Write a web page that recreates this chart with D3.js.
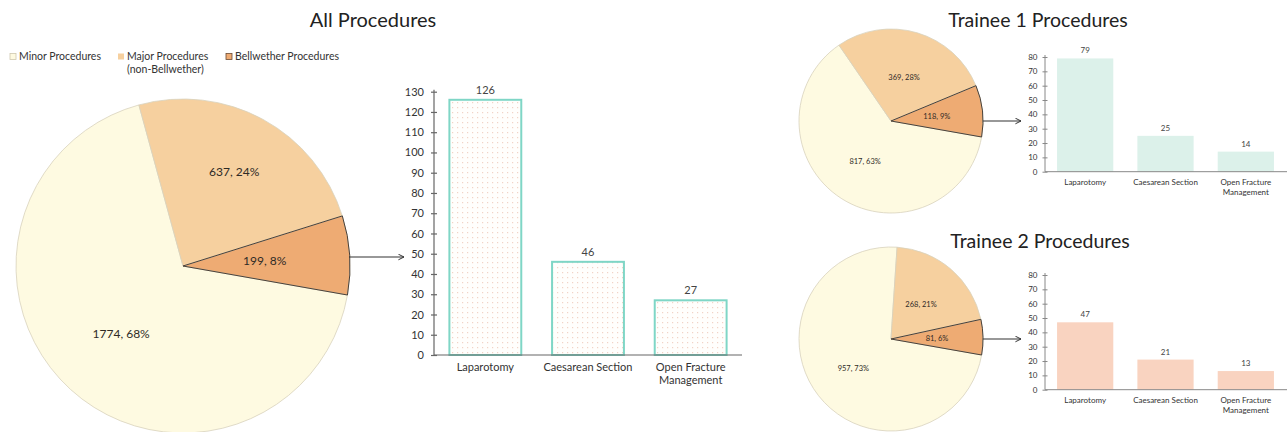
<!DOCTYPE html>
<html>
<head>
<meta charset="utf-8">
<script src="https://cdn.jsdelivr.net/npm/d3@7"></script>
<style>
  html, body { margin: 0; padding: 0; background: #ffffff; }
  svg { display: block; font-family: Lato, "Open Sans", sans-serif; }
</style>
</head>
<body>
<svg id="chart" width="1287" height="432"></svg>
<script>
// Procedure groups shown in every pie
const groupNames = ["Minor Procedures", "Major Procedures", "Bellwether Procedures"];
const legendLines = [["Minor Procedures"], ["Major Procedures", "(non-Bellwether)"], ["Bellwether Procedures"]];

// Counts and shares per group
const allCounts = [1774, 637, 199];
const allShares = [68, 24, 8];
const trainee1Counts = [817, 369, 118];
const trainee1Shares = [63, 28, 9];
const trainee2Counts = [957, 268, 81];
const trainee2Shares = [73, 21, 6];

// Bellwether procedure breakdown
const bellwetherNames = ["Laparotomy", "Caesarean Section", "Open Fracture Management"];
const bellwetherLabelLines = [["Laparotomy"], ["Caesarean Section"], ["Open Fracture", "Management"]];
const allBellwether = [126, 46, 27];
const trainee1Bellwether = [79, 25, 14];
const trainee2Bellwether = [47, 21, 13];

// Axis ticks
const allTicks = d3.range(0, 131, 10);
const traineeTicks = d3.range(0, 81, 10);

const groupColors = ["#fefae1", "#f6d09f", "#eeab73"];
const deg = Math.PI / 180;

const svg = d3.select("#chart");

// dotted fill for the overall bellwether bars
const defs = svg.append("defs");
const pat = defs.append("pattern")
  .attr("id", "dots").attr("patternUnits", "userSpaceOnUse")
  .attr("width", 5).attr("height", 5);
pat.append("rect").attr("width", 5).attr("height", 5).attr("fill", "#fffefc");
pat.append("rect").attr("x", 2).attr("y", 2).attr("width", 1.2).attr("height", 1.2).attr("fill", "#f1d3c6");

const marker = defs.append("marker")
  .attr("id", "arrow").attr("viewBox", "0 0 10 10")
  .attr("refX", 9).attr("refY", 5)
  .attr("markerWidth", 7).attr("markerHeight", 7)
  .attr("markerUnits", "userSpaceOnUse")
  .attr("orient", "auto");
marker.append("path").attr("d", "M1,1 L9,5 L1,9").attr("fill", "none")
  .attr("stroke", "#333").attr("stroke-width", 1.4);

// labelFracs: radial placement of each slice label, as a fraction of the radius
function drawPie(cx, cy, r, counts, shares, fontSize, labelFracs) {
  const g = svg.append("g").attr("transform", `translate(${cx},${cy})`);
  const start = 100 * deg;
  const pie = d3.pie().sort(null).startAngle(start).endAngle(start + 2 * Math.PI);
  const arcs = pie(counts);
  const arc = d3.arc().innerRadius(0).outerRadius(r);
  g.selectAll("path.slice").data(arcs).join("path")
    .attr("class", "slice")
    .attr("d", arc)
    .attr("fill", (d, i) => groupColors[i])
    .attr("stroke", "#d8d2bd").attr("stroke-width", 0.8);
  // outline the bellwether slice
  g.append("path").attr("d", arc(arcs[2]))
    .attr("fill", "none").attr("stroke", "#4a4038").attr("stroke-width", 1)
    .attr("stroke-linejoin", "round");
  g.selectAll("text.lbl").data(arcs).join("text")
    .attr("class", "lbl")
    .attr("transform", (d, i) => {
      const k = r * labelFracs[i];
      return `translate(${d3.arc().innerRadius(k).outerRadius(k).centroid(d)})`;
    })
    .attr("text-anchor", "middle").attr("dy", "0.35em")
    .attr("font-size", fontSize).attr("fill", "#2e2a26")
    .text((d, i) => `${counts[i]}, ${shares[i]}%`);
}

function drawBars(opt) {
  const x = d3.scaleBand().domain(bellwetherNames).range([opt.x0, opt.x1])
    .paddingInner(0.3).paddingOuter(0.15);
  const y = d3.scaleLinear().domain([0, opt.yMax]).range([opt.yBase, opt.yTop]);
  const g = svg.append("g");

  g.selectAll("rect.bar").data(opt.values).join("rect")
    .attr("class", "bar")
    .attr("x", (d, i) => x(bellwetherNames[i]))
    .attr("y", d => y(d))
    .attr("width", x.bandwidth())
    .attr("height", d => y(0) - y(d))
    .attr("fill", opt.fill)
    .attr("stroke", opt.stroke || "none")
    .attr("stroke-width", opt.strokeWidth || 0);

  g.selectAll("text.val").data(opt.values).join("text")
    .attr("class", "val")
    .attr("x", (d, i) => x(bellwetherNames[i]) + x.bandwidth() / 2)
    .attr("y", d => y(d) - opt.valGap)
    .attr("text-anchor", "middle").attr("font-size", opt.font)
    .attr("fill", "#444").text(d => d);

  // y axis with ticks crossing the line
  const yAxis = g.append("g").attr("transform", `translate(${opt.x0},0)`)
    .call(d3.axisLeft(y).tickValues(opt.ticks).tickSize(opt.tick).tickPadding(opt.pad));
  yAxis.select(".domain").attr("stroke", opt.axisColor).attr("stroke-width", opt.axisWidth)
    .attr("d", `M0,${opt.yBase}V${opt.yTop - 2}`);
  yAxis.selectAll(".tick line").attr("x2", -opt.tick).attr("x1", opt.tick)
    .attr("stroke", opt.axisColor).attr("stroke-width", opt.axisWidth);
  yAxis.selectAll(".tick text").attr("font-size", opt.font).attr("fill", "#333")
    .attr("font-family", "Lato, 'Open Sans', sans-serif");

  // x axis: baseline only, labels wrapped
  const xAxis = g.append("g").attr("transform", `translate(0,${opt.yBase})`)
    .call(d3.axisBottom(x).tickSize(0).tickFormat(""));
  xAxis.select(".domain").attr("stroke", opt.axisColor).attr("stroke-width", opt.axisWidth)
    .attr("d", `M${opt.x0},0H${opt.xEnd}`);
  bellwetherNames.forEach((name, i) => {
    const t = g.append("text")
      .attr("x", x(name) + x.bandwidth() / 2)
      .attr("y", opt.yBase + opt.catGap)
      .attr("text-anchor", "middle").attr("font-size", opt.font).attr("fill", "#333");
    bellwetherLabelLines[i].forEach((line, j) => {
      t.append("tspan").attr("x", x(name) + x.bandwidth() / 2)
        .attr("dy", j === 0 ? 0 : opt.lineH).text(line);
    });
  });
}

function arrow(x1, x2, yy) {
  svg.append("line").attr("x1", x1).attr("x2", x2).attr("y1", yy).attr("y2", yy)
    .attr("stroke", "#333").attr("stroke-width", 1.1).attr("marker-end", "url(#arrow)");
}

// titles
svg.append("text").attr("x", 373).attr("y", 27).attr("text-anchor", "middle")
  .attr("font-size", 20).attr("fill", "#222").text("All Procedures");
svg.append("text").attr("x", 1038).attr("y", 27).attr("text-anchor", "middle")
  .attr("font-size", 19.5).attr("fill", "#222").text("Trainee 1 Procedures");
svg.append("text").attr("x", 1040).attr("y", 248).attr("text-anchor", "middle")
  .attr("font-size", 19.5).attr("fill", "#222").text("Trainee 2 Procedures");

// legend
const legendX = [10, 118, 226];
const legendStroke = ["#cfc8b0", "none", "#6a4a32"];
legendLines.forEach((lines, i) => {
  svg.append("rect").attr("x", legendX[i]).attr("y", 53.5).attr("width", 6).attr("height", 6)
    .attr("fill", groupColors[i]).attr("stroke", legendStroke[i]).attr("stroke-width", 0.8);
  const t = svg.append("text").attr("x", legendX[i] + 9).attr("y", 60)
    .attr("font-size", 10.5).attr("fill", "#333");
  lines.forEach((line, j) => {
    t.append("tspan").attr("x", legendX[i] + 9).attr("dy", j === 0 ? 0 : 13).text(line);
  });
});

// overall
drawPie(183, 266, 167, allCounts, allShares, 12, [0.55, 0.64, 0.49]);
arrow(349, 404, 257);
drawBars({
  x0: 434, x1: 742, xEnd: 742, yBase: 355, yTop: 91.7, yMax: 130,
  values: allBellwether, ticks: allTicks, fill: "url(#dots)",
  stroke: "#7fd6c6", strokeWidth: 2, font: 11, valGap: 6, tick: 3, pad: 7,
  axisColor: "#666", axisWidth: 1.2, catGap: 16, lineH: 13
});

// trainee 1
drawPie(891, 121, 92, trainee1Counts, trainee1Shares, 7.5, [0.52, 0.5, 0.5]);
arrow(983, 1021, 121);
drawBars({
  x0: 1045, x1: 1286, xEnd: 1287, yBase: 171.7, yTop: 57, yMax: 80,
  values: trainee1Bellwether, ticks: traineeTicks, fill: "#dcf1ea",
  font: 8, valGap: 5, tick: 2.5, pad: 5,
  axisColor: "#888", axisWidth: 1, catGap: 13, lineH: 10
});

// trainee 2
drawPie(891, 339, 92, trainee2Counts, trainee2Shares, 7.5, [0.52, 0.5, 0.5]);
arrow(983, 1021, 339);
drawBars({
  x0: 1045, x1: 1286, xEnd: 1287, yBase: 389.7, yTop: 275, yMax: 80,
  values: trainee2Bellwether, ticks: traineeTicks, fill: "#f9d3c0",
  font: 8, valGap: 5, tick: 2.5, pad: 5,
  axisColor: "#888", axisWidth: 1, catGap: 13, lineH: 10
});
</script>
</body>
</html>
